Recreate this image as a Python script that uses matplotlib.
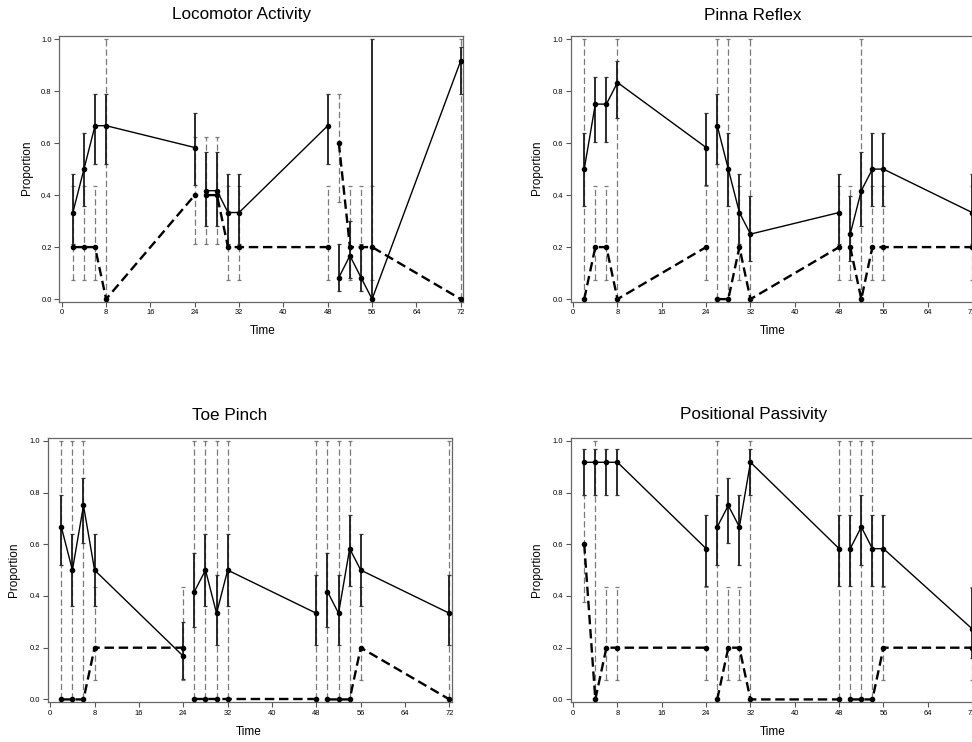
import matplotlib
matplotlib.use("Agg")
import matplotlib.pyplot as plt

#=========== Data ===========
time = [2, 4, 6, 8, 24, 26, 28, 30, 32, 48, 50, 52, 54, 56, 72]

# Locomotor Activity
loco_solid    = [0.333, 0.5, 0.667, 0.667, 0.583, 0.417, 0.417, 0.333, 0.333, 0.667, 0.083, 0.167, 0.083, 0.0, 0.917]
loco_solid_lo = [0.21, 0.36, 0.52, 0.52, 0.44, 0.28, 0.28, 0.21, 0.21, 0.52, 0.03, 0.08, 0.03, 0.0, 0.79]
loco_solid_hi = [0.48, 0.64, 0.79, 0.79, 0.715, 0.565, 0.565, 0.48, 0.48, 0.79, 0.21, 0.30, 0.21, 1.0, 0.97]
loco_dash     = [0.2, 0.2, 0.2, 0.0, 0.4, 0.4, 0.4, 0.2, 0.2, 0.2, 0.6, 0.2, 0.2, 0.2, 0.0]
loco_dash_lo  = [0.075, 0.075, 0.075, 0.0, 0.21, 0.21, 0.21, 0.075, 0.075, 0.075, 0.375, 0.075, 0.075, 0.075, 0.0]
loco_dash_hi  = [0.435, 0.435, 0.435, 1.0, 0.625, 0.625, 0.625, 0.435, 0.435, 0.435, 0.79, 0.435, 0.435, 0.435, 1.0]

# Pinna Reflex
pinna_solid    = [0.5, 0.75, 0.75, 0.833, 0.583, 0.667, 0.5, 0.333, 0.25, 0.333, 0.25, 0.417, 0.5, 0.5, 0.333]
pinna_solid_lo = [0.36, 0.605, 0.605, 0.695, 0.44, 0.52, 0.36, 0.21, 0.145, 0.21, 0.145, 0.28, 0.36, 0.36, 0.21]
pinna_solid_hi = [0.64, 0.855, 0.855, 0.915, 0.715, 0.79, 0.64, 0.48, 0.395, 0.48, 0.395, 0.565, 0.64, 0.64, 0.48]
pinna_dash     = [0.0, 0.2, 0.2, 0.0, 0.2, 0.0, 0.0, 0.2, 0.0, 0.2, 0.2, 0.0, 0.2, 0.2, 0.2]
pinna_dash_lo  = [0.0, 0.075, 0.075, 0.0, 0.075, 0.0, 0.0, 0.075, 0.0, 0.075, 0.075, 0.0, 0.075, 0.075, 0.075]
pinna_dash_hi  = [1.0, 0.435, 0.435, 1.0, 0.435, 1.0, 1.0, 0.435, 1.0, 0.435, 0.435, 1.0, 0.435, 0.435, 0.435]

# Toe Pinch
toe_solid    = [0.667, 0.5, 0.75, 0.5, 0.167, 0.417, 0.5, 0.333, 0.5, 0.333, 0.417, 0.333, 0.583, 0.5, 0.333]
toe_solid_lo = [0.52, 0.36, 0.605, 0.36, 0.08, 0.28, 0.36, 0.21, 0.36, 0.21, 0.28, 0.21, 0.44, 0.36, 0.21]
toe_solid_hi = [0.79, 0.64, 0.855, 0.64, 0.30, 0.565, 0.64, 0.48, 0.64, 0.48, 0.565, 0.48, 0.715, 0.64, 0.48]
toe_dash     = [0.0, 0.0, 0.0, 0.2, 0.2, 0.0, 0.0, 0.0, 0.0, 0.0, 0.0, 0.0, 0.0, 0.2, 0.0]
toe_dash_lo  = [0.0, 0.0, 0.0, 0.075, 0.075, 0.0, 0.0, 0.0, 0.0, 0.0, 0.0, 0.0, 0.0, 0.075, 0.0]
toe_dash_hi  = [1.0, 1.0, 1.0, 0.435, 0.435, 1.0, 1.0, 1.0, 1.0, 1.0, 1.0, 1.0, 1.0, 0.435, 1.0]

# Positional Passivity
pos_solid    = [0.917, 0.917, 0.917, 0.917, 0.583, 0.667, 0.75, 0.667, 0.917, 0.583, 0.583, 0.667, 0.583, 0.583, 0.273]
pos_solid_lo = [0.79, 0.79, 0.79, 0.79, 0.44, 0.52, 0.605, 0.52, 0.79, 0.44, 0.44, 0.52, 0.44, 0.44, 0.16]
pos_solid_hi = [0.97, 0.97, 0.97, 0.97, 0.715, 0.79, 0.855, 0.79, 0.97, 0.715, 0.715, 0.79, 0.715, 0.715, 0.43]
pos_dash     = [0.6, 0.0, 0.2, 0.2, 0.2, 0.0, 0.2, 0.2, 0.0, 0.0, 0.0, 0.0, 0.0, 0.2, 0.2]
pos_dash_lo  = [0.375, 0.0, 0.075, 0.075, 0.075, 0.0, 0.075, 0.075, 0.0, 0.0, 0.0, 0.0, 0.0, 0.075, 0.075]
pos_dash_hi  = [0.79, 1.0, 0.435, 0.435, 0.435, 1.0, 0.435, 0.435, 1.0, 1.0, 1.0, 1.0, 1.0, 0.435, 0.435]

x_ticks = [0, 8, 16, 24, 32, 40, 48, 56, 64, 72]
y_ticks = [0.0, 0.2, 0.4, 0.6, 0.8, 1.0]

# the measurements come in 3 blocks of 5 time points, lines are only joined inside a block
groups = [slice(0, 5), slice(5, 10), slice(10, 15)]

plt.rcParams['font.family'] = ['Liberation Sans', 'DejaVu Sans']

panels = [
    # title, series, axes rect, title pos, ylabel pos, xlabel pos (pixels)
    ("Locomotor Activity", (loco_solid, loco_solid_lo, loco_solid_hi, loco_dash, loco_dash_lo, loco_dash_hi),
     [0.0610, 0.5934, 0.4153, 0.3581], (242, 15), (27, 168), (263, 331)),
    ("Pinna Reflex", (pinna_solid, pinna_solid_lo, pinna_solid_hi, pinna_dash, pinna_dash_lo, pinna_dash_hi),
     [0.5871, 0.5934, 0.4153, 0.3581], (753, 15), (537, 168), (773, 331)),
    ("Toe Pinch", (toe_solid, toe_solid_lo, toe_solid_hi, toe_dash, toe_dash_lo, toe_dash_hi),
     [0.0491, 0.0539, 0.4156, 0.3562], (230, 415), (14, 570), (249, 732)),
    ("Positional Passivity", (pos_solid, pos_solid_lo, pos_solid_hi, pos_dash, pos_dash_lo, pos_dash_hi),
     [0.5871, 0.0539, 0.4153, 0.3562], (754, 415), (537, 570), (773, 732)),
]

W, H = 972, 742
fig = plt.figure(figsize=(W / 100, H / 100), dpi=100)

for title, (s, s_lo, s_hi, d, d_lo, d_hi), rect, tpos, ylpos, xlpos in panels:
    ax = fig.add_axes(rect)

    # --- error bars of the dashed series (grey, dashed)
    ax.vlines(time, d_lo, d_hi, colors='#7a7a7a', linestyles=(0, (5, 2.5)), lw=0.9, zorder=2)
    ax.plot(time, d_lo, ls='none', marker='_', ms=3, mew=0.9, color='#7a7a7a', zorder=2)
    ax.plot(time, d_hi, ls='none', marker='_', ms=3, mew=0.9, color='#7a7a7a', zorder=2)

    # --- error bars of the solid series (black)
    ax.vlines(time, s_lo, s_hi, colors='#1a1a1a', lw=1.3, zorder=3)
    ax.plot(time, s_lo, ls='none', marker='_', ms=3, mew=0.9, color='#333333', zorder=3)
    ax.plot(time, s_hi, ls='none', marker='_', ms=3, mew=0.9, color='#333333', zorder=3)

    # --- lines, one piece per block
    for g in groups:
        ax.plot(time[g], d[g], color='black', lw=1.7, dashes=(4, 2), marker='o', ms=3, zorder=4)
        ax.plot(time[g], s[g], color='black', lw=1.0, marker='o', ms=3, zorder=5)

    ax.set_xlim(-0.45, 72.4)
    ax.set_ylim(-0.01, 1.012)
    ax.set_xticks(x_ticks)
    ax.set_yticks(y_ticks)
    ax.set_yticklabels([f"{v:.1f}" for v in y_ticks])
    ax.tick_params(direction='out', length=3.5, width=0.8, color='#555555', labelsize=5.4, pad=2)
    for sp in ax.spines.values():
        sp.set_color('#666666')
        sp.set_linewidth(0.9)

    # titles and labels placed in pixel coordinates of the figure
    fig.text(tpos[0] / W, 1 - tpos[1] / H, title, ha='center', va='center', fontsize=12.3)
    fig.text(ylpos[0] / W, 1 - ylpos[1] / H, "Proportion", ha='center', va='center', rotation=90, fontsize=8.5)
    fig.text(xlpos[0] / W, 1 - xlpos[1] / H, "Time", ha='center', va='center', fontsize=8.5)

fig.savefig("out.png", dpi=100)
